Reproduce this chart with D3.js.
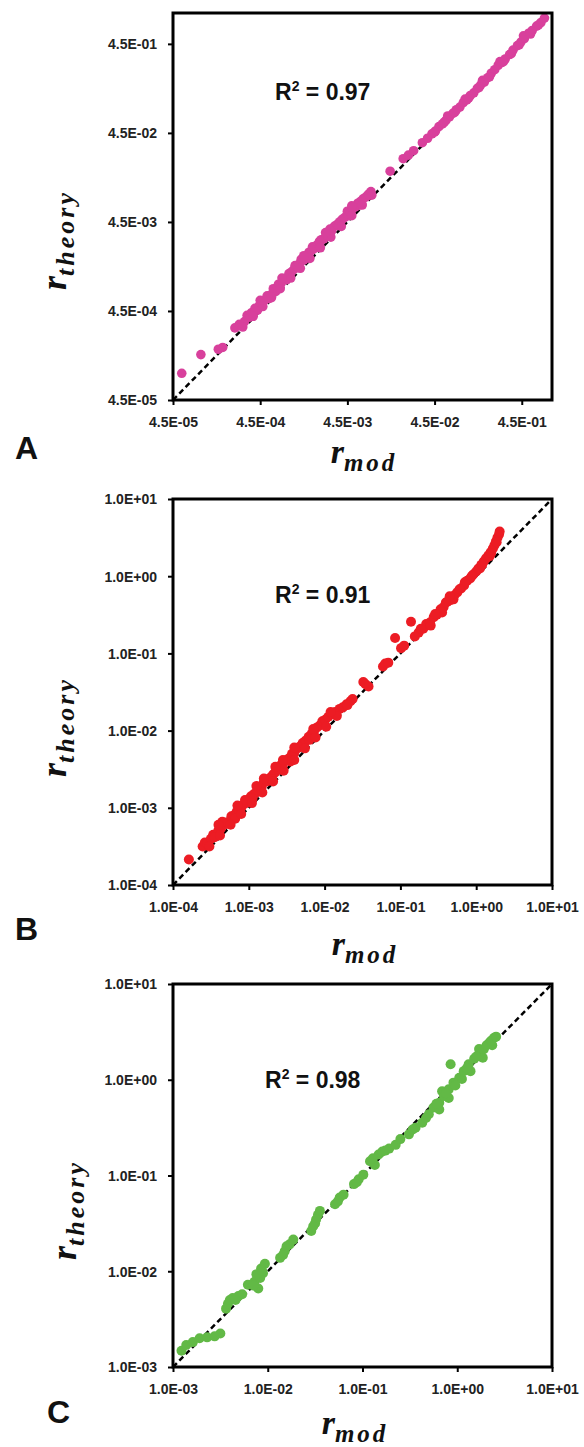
<!DOCTYPE html>
<html><head><meta charset="utf-8">
<script src="https://cdn.jsdelivr.net/npm/d3@7"></script>
<style>body{margin:0;background:#fff}svg{display:block}</style>
</head><body>
<svg id="chart" width="584" height="1447"></svg>
<script>
// ---------- data ----------
const aMod = [5.67e-5,9.40e-5,1.490e-4,1.672e-4,2.308e-4,2.589e-4,2.973e-4,3.186e-4,3.414e-4,3.574e-4,
3.920e-4,4.200e-4,4.397e-4,4.60e-4,5.05e-4,5.41e-4,5.67e-4,5.93e-4,6.36e-4,6.81e-4,
7.13e-4,7.30e-4,7.82e-4,8.38e-4,8.98e-4,9.40e-4,9.62e-4,1.031e-3,1.105e-3,1.130e-3,
1.184e-3,1.239e-3,1.268e-3,1.328e-3,1.423e-3,1.525e-3,1.597e-3,1.634e-3,1.751e-3,1.791e-3,
1.876e-3,2.010e-3,2.105e-3,2.154e-3,2.255e-3,2.417e-3,2.589e-3,2.712e-3,2.775e-3,2.840e-3,
2.973e-3,3.186e-3,3.414e-3,3.574e-3,3.658e-3,3.920e-3,4.200e-3,4.50e-3,4.50e-3,4.71e-3,
4.82e-3,5.17e-3,5.54e-3,5.93e-3,6.21e-3,6.36e-3,6.81e-3,7.30e-3,7.82e-3,8.00e-3,
8.38e-3,1.391e-2,1.964e-2,2.255e-2,2.589e-2,3.260e-2,3.743e-2,4.200e-2,4.60e-2,5.05e-2,
5.54e-2,6.07e-2,6.36e-2,6.66e-2,7.30e-2,8.00e-2,8.78e-2,9.62e-2,1.008e-1,1.055e-1,
1.157e-1,1.268e-1,1.391e-1,1.525e-1,1.597e-1,1.672e-1,1.833e-1,2.010e-1,2.204e-1,2.417e-1,
2.530e-1,2.650e-1,2.906e-1,3.260e-1,3.574e-1,4.011e-1,4.397e-1,4.71e-1,4.82e-1,5.41e-1,
5.93e-1,6.66e-1,7.47e-1,8.19e-1,
2.840e-4,3.743e-4,4.82e-4,6.07e-4,7.64e-4,1.008e-3,1.298e-3,1.672e-3,2.204e-3,2.906e-3,
3.830e-3,5.05e-3,6.66e-3,8.57e-3,4.50e-2,5.80e-2,7.64e-2,1.105e-1,1.456e-1,1.920e-1,
2.775e-1,3.414e-1,4.200e-1,5.67e-1,6.97e-1,4.50e-4,8.00e-4,1.423e-3,2.530e-3,5.05e-3];
const aTheory = [8.98e-5,1.456e-4,1.672e-4,1.751e-4,2.906e-4,3.186e-4,3.414e-4,4.011e-4,3.830e-4,4.298e-4,
4.82e-4,4.60e-4,5.17e-4,5.54e-4,5.93e-4,6.66e-4,6.21e-4,6.81e-4,8.00e-4,7.47e-4,
8.38e-4,8.98e-4,9.19e-4,1.031e-3,1.008e-3,1.080e-3,1.184e-3,1.239e-3,1.328e-3,1.456e-3,
1.423e-3,1.391e-3,1.525e-3,1.711e-3,1.672e-3,1.876e-3,1.791e-3,2.057e-3,2.154e-3,2.362e-3,
2.255e-3,2.473e-3,2.530e-3,2.712e-3,2.840e-3,2.906e-3,3.260e-3,3.113e-3,3.493e-3,3.743e-3,
3.574e-3,4.011e-3,4.200e-3,4.104e-3,4.50e-3,4.82e-3,5.05e-3,5.54e-3,5.93e-3,5.29e-3,
5.80e-3,6.36e-3,6.66e-3,7.30e-3,6.97e-3,7.64e-3,8.19e-3,8.57e-3,9.19e-3,8.98e-3,
9.85e-3,1.672e-2,2.308e-2,2.530e-2,2.840e-2,3.493e-2,3.920e-2,4.397e-2,4.71e-2,5.29e-2,
5.67e-2,6.21e-2,6.97e-2,6.81e-2,7.47e-2,8.19e-2,8.78e-2,9.85e-2,1.080e-1,1.055e-1,
1.184e-1,1.268e-1,1.423e-1,1.560e-1,1.751e-1,1.672e-1,1.876e-1,2.105e-1,2.308e-1,2.589e-1,
2.840e-1,2.775e-1,3.042e-1,3.414e-1,3.830e-1,4.298e-1,4.71e-1,5.54e-1,5.17e-1,5.93e-1,
6.36e-1,7.13e-1,7.82e-1,8.78e-1,
2.973e-4,3.920e-4,5.05e-4,6.36e-4,8.00e-4,1.055e-3,1.359e-3,1.751e-3,2.308e-3,3.042e-3,
4.011e-3,5.29e-3,6.97e-3,8.98e-3,4.60e-2,5.93e-2,7.64e-2,1.105e-1,1.456e-1,1.920e-1,
2.840e-1,3.493e-1,4.397e-1,5.80e-1,7.30e-1,5.93e-4,1.055e-3,1.876e-3,3.414e-3,6.81e-3];

const bMod = [1.62e-4,2.46e-4,2.63e-4,2.82e-4,3.16e-4,3.39e-4,3.72e-4,3.98e-4,4.27e-4,4.68e-4,
5.01e-4,5.50e-4,5.89e-4,6.31e-4,6.92e-4,7.41e-4,7.59e-4,7.94e-4,8.71e-4,9.33e-4,
1.00e-3,1.07e-3,1.17e-3,1.26e-3,1.38e-3,1.48e-3,1.58e-3,1.74e-3,1.91e-3,2.09e-3,
2.24e-3,2.45e-3,2.63e-3,2.82e-3,3.16e-3,3.39e-3,3.72e-3,3.98e-3,4.37e-3,4.68e-3,
5.13e-3,5.62e-3,6.17e-3,6.76e-3,7.24e-3,7.94e-3,8.71e-3,9.33e-3,1.02e-2,1.12e-2,
1.26e-2,1.38e-2,1.58e-2,1.74e-2,1.95e-2,2.19e-2,2.34e-2,3.24e-2,3.47e-2,3.80e-2,
5.89e-2,6.31e-2,6.92e-2,8.51e-2,1.02e-1,1.12e-1,1.38e-1,1.55e-1,1.74e-1,2.00e-1,
2.19e-1,2.45e-1,2.75e-1,3.02e-1,3.39e-1,3.72e-1,4.17e-1,4.57e-1,5.13e-1,5.62e-1,
6.31e-1,6.92e-1,7.59e-1,8.32e-1,9.12e-1,1.00,1.07,1.17,1.26,1.35,
1.45,1.55,1.66,1.74,1.82,1.91,2.00,2.04,2.51e-1,3.55e-1,
5.01e-1,7.08e-1,1.12,1.51,4.47e-1,3.55e-4,6.61e-4,1.12e-3,2.00e-3,3.55e-3,
6.31e-3,4.47e-4,8.91e-4,1.58e-3,2.82e-3,
3.02e-4,4.17e-4,5.75e-4,7.94e-4,1.10e-3,1.51e-3,2.09e-3,2.88e-3,3.98e-3,5.50e-3,
7.59e-3,1.05e-2,1.45e-2,2.00e-2,3.98e-4,7.08e-4,1.26e-3,2.24e-3,3.98e-3,7.08e-3,
1.20e-2,1.86e-1,2.88e-1,3.98e-1,6.03e-1,8.71e-1,1.20,1.58,1.86];
const bTheory = [2.14e-4,3.16e-4,3.55e-4,3.47e-4,3.98e-4,4.47e-4,4.57e-4,5.13e-4,5.37e-4,6.03e-4,
6.46e-4,6.61e-4,7.76e-4,7.94e-4,8.91e-4,9.33e-4,1.05e-3,1.00e-3,1.12e-3,1.17e-3,
1.29e-3,1.41e-3,1.51e-3,1.58e-3,1.82e-3,1.86e-3,2.14e-3,2.19e-3,2.45e-3,2.69e-3,
2.88e-3,3.16e-3,3.55e-3,3.63e-3,4.17e-3,4.37e-3,5.01e-3,5.13e-3,5.89e-3,6.17e-3,
6.92e-3,7.41e-3,8.32e-3,9.12e-3,9.77e-3,1.10e-2,1.17e-2,1.32e-2,1.38e-2,1.51e-2,
1.66e-2,1.74e-2,1.91e-2,2.00e-2,2.19e-2,2.40e-2,2.57e-2,4.27e-2,3.98e-2,3.72e-2,
6.76e-2,7.41e-2,7.59e-2,1.58e-1,1.17e-1,1.26e-1,2.57e-1,1.66e-1,1.86e-1,2.09e-1,
2.40e-1,2.51e-1,2.95e-1,3.16e-1,3.72e-1,3.98e-1,4.68e-1,4.90e-1,5.62e-1,6.17e-1,
6.92e-1,7.59e-1,8.71e-1,9.33e-1,1.05,1.15,1.26,1.41,1.55,1.70,
1.86,2.04,2.29,2.51,2.82,3.16,3.47,3.80,2.29e-1,3.39e-1,
5.01e-1,8.32e-1,1.26,1.82,5.50e-1,4.17e-4,7.24e-4,1.32e-3,2.34e-3,3.98e-3,
7.59e-3,6.61e-4,1.26e-3,2.40e-3,4.17e-3,
3.16e-4,4.37e-4,6.03e-4,8.32e-4,1.15e-3,1.58e-3,2.19e-3,3.02e-3,4.17e-3,5.89e-3,
8.13e-3,1.12e-2,1.55e-2,2.14e-2,6.03e-4,1.07e-3,1.91e-3,3.39e-3,6.03e-3,1.05e-2,
1.74e-2,2.09e-1,3.24e-1,4.57e-1,6.76e-1,1.00,1.41,2.00,2.75];

const cMod = [1.23e-3,1.38e-3,1.62e-3,1.91e-3,2.29e-3,2.75e-3,3.16e-3,3.63e-3,3.80e-3,4.27e-3,
4.90e-3,5.37e-3,6.17e-3,7.24e-3,7.94e-3,8.32e-3,8.51e-3,9.33e-3,8.91e-3,1.35e-2,
1.51e-2,1.70e-2,1.86e-2,2.88e-2,3.16e-2,3.39e-2,3.55e-2,5.13e-2,5.75e-2,6.31e-2,
8.13e-2,9.12e-2,1.02e-1,1.20e-1,1.35e-1,1.48e-1,1.62e-1,1.91e-1,2.24e-1,2.51e-1,
3.09e-1,3.63e-1,4.27e-1,5.01e-1,5.62e-1,6.46e-1,6.46e-1,6.92e-1,7.24e-1,8.13e-1,
8.13e-1,9.12e-1,1.05,1.12,1.17,1.32,1.38,1.51,1.70,1.86,
1.70,1.91,2.19,2.34,2.45,8.51e-1,
3.98e-3,4.57e-3,7.59e-3,8.71e-3,7.08e-3,1.58e-2,1.45e-2,3.24e-2,3.02e-2,5.50e-2,
8.71e-2,1.29e-1,1.74e-1,3.39e-1,4.68e-1,6.03e-1,7.59e-1,9.55e-1,1.26,1.58,
2.04,2.29,2.57];
const cTheory = [1.48e-3,1.70e-3,1.82e-3,2.00e-3,2.04e-3,2.09e-3,2.24e-3,4.07e-3,4.57e-3,5.25e-3,
5.50e-3,5.75e-3,7.24e-3,7.76e-3,6.61e-3,8.51e-3,1.07e-2,1.20e-2,9.55e-3,1.38e-2,
1.62e-2,1.91e-2,2.14e-2,2.63e-2,3.16e-2,3.89e-2,4.27e-2,5.01e-2,5.89e-2,6.31e-2,
8.13e-2,9.12e-2,1.02e-1,1.41e-1,1.29e-1,1.66e-1,1.78e-1,1.91e-1,2.09e-1,2.40e-1,
2.69e-1,3.16e-1,3.55e-1,4.37e-1,5.13e-1,5.75e-1,4.90e-1,7.59e-1,6.76e-1,7.94e-1,
6.46e-1,9.33e-1,1.05,1.02,1.23,1.45,1.23,1.66,1.86,1.70,
2.09,2.09,2.45,2.29,2.75,1.45,
5.01e-3,5.01e-3,9.33e-3,1.02e-2,7.08e-3,1.82e-2,1.48e-2,3.47e-2,2.95e-2,5.37e-2,
8.51e-2,1.51e-1,1.82e-1,3.02e-1,3.98e-1,5.62e-1,7.24e-1,8.71e-1,1.32,1.74,
2.29,2.57,2.82];

const aTicks = [4.5e-5, 4.5e-4, 4.5e-3, 4.5e-2, 4.5e-1];
const bTicks = [1e-4, 1e-3, 1e-2, 1e-1, 1e0, 1e1];
const cTicks = [1e-3, 1e-2, 1e-1, 1e0, 1e1];
const aDomain = [4.5e-5, 1.0];
const bDomain = [1e-4, 1e1];
const cDomain = [1e-3, 1e1];
const panelLetters = ["A", "B", "C"];
const r2Values = ["0.97", "0.91", "0.98"];

// ---------- layout ----------
const panels = [
  {mod:aMod, theory:aTheory, ticks:aTicks, domain:aDomain, letter:panelLetters[0], r2:r2Values[0],
   color:"#d8409c", r:4.8, left:173, right:552, top:13, bottom:400,
   lx:15, ly:459, r2x:275, r2y:100, tx:364, ty:463, yx:66, yy:240},
  {mod:bMod, theory:bTheory, ticks:bTicks, domain:bDomain, letter:panelLetters[1], r2:r2Values[1],
   color:"#ec1c24", r:5.0, left:173, right:552, top:499, bottom:885,
   lx:15, ly:940, r2x:275, r2y:603, tx:365, ty:955, yx:66, yy:727},
  {mod:cMod, theory:cTheory, ticks:cTicks, domain:cDomain, letter:panelLetters[2], r2:r2Values[2],
   color:"#62b946", r:5.0, left:173, right:552, top:984, bottom:1367,
   lx:47, ly:1423, r2x:265, r2y:1088, tx:355, ty:1434, yx:76, yy:1210}
];

const fmt = v => {
  const [m, e] = v.toExponential(1).split("e");
  const n = parseInt(e, 10);
  return m + "E" + (n < 0 ? "-" : "+") + String(Math.abs(n)).padStart(2, "0");
};

const svg = d3.select("#chart");
svg.append("rect").attr("width", 584).attr("height", 1447).attr("fill", "#fff");

const tickFont = '"Liberation Sans Narrow","Liberation Sans",Arial,sans-serif';
const serif = '"Liberation Serif","DejaVu Serif",serif';

panels.forEach(p => {
  const g = svg.append("g");
  const x = d3.scaleLog().domain(p.domain).range([p.left, p.right]);
  const y = d3.scaleLog().domain(p.domain).range([p.bottom, p.top]);

  // diagonal y = x
  g.append("line")
    .attr("x1", x(p.domain[0])).attr("y1", y(p.domain[0]))
    .attr("x2", x(p.domain[1])).attr("y2", y(p.domain[1]))
    .attr("stroke", "#000").attr("stroke-width", 2.5)
    .attr("stroke-dasharray", "5.5,3.5");

  // points
  g.append("g").selectAll("circle")
    .data(d3.zip(p.mod, p.theory))
    .join("circle")
    .attr("cx", d => x(d[0])).attr("cy", d => y(d[1]))
    .attr("r", p.r).attr("fill", p.color);

  // axes
  const xa = g.append("g").attr("transform", `translate(0,${p.bottom})`)
    .call(d3.axisBottom(x).tickValues(p.ticks).tickFormat(fmt).tickSize(5));
  const ya = g.append("g").attr("transform", `translate(${p.left},0)`)
    .call(d3.axisLeft(y).tickValues(p.ticks).tickFormat(fmt).tickSize(5));
  [xa, ya].forEach(a => {
    a.select(".domain").remove();
    a.selectAll(".tick line").attr("stroke", "#000").attr("stroke-width", 2);
    a.selectAll(".tick text").attr("fill", "#222")
      .style("font-family", tickFont).style("font-weight", "bold").style("font-size", "14px");
  });
  xa.selectAll(".tick text").attr("y", 27).attr("dy", null);
  ya.selectAll(".tick text").attr("x", -16).attr("dy", "0.35em");

  // frame
  g.append("rect")
    .attr("x", p.left).attr("y", p.top)
    .attr("width", p.right - p.left).attr("height", p.bottom - p.top)
    .attr("fill", "none").attr("stroke", "#000").attr("stroke-width", 3);

  // R^2 annotation
  const t = g.append("text").attr("x", p.r2x).attr("y", p.r2y)
    .style("font-family", '"Liberation Sans",Arial,sans-serif')
    .style("font-weight", "bold").style("font-size", "23px").attr("fill", "#111");
  t.append("tspan").text("R");
  t.append("tspan").attr("dy", -9).style("font-size", "14px").text("2");
  t.append("tspan").attr("dy", 9).text(" = " + p.r2);

  // panel letter
  g.append("text").attr("x", p.lx).attr("y", p.ly)
    .style("font-family", '"Liberation Sans",Arial,sans-serif')
    .style("font-weight", "bold")
    .style("font-size", "32px").attr("fill", "#111").text(p.letter);

  // x title r_mod
  const xt = g.append("text").attr("x", p.tx).attr("y", p.ty)
    .attr("text-anchor", "middle")
    .style("font-family", serif).style("font-style", "italic").style("font-weight", "bold")
    .attr("fill", "#111");
  xt.append("tspan").style("font-size", "34px").text("r");
  xt.append("tspan").attr("dy", 8).style("font-size", "25px").style("letter-spacing", "3px").text("mod");

  // y title r_theory
  const yt = g.append("text")
    .attr("transform", `translate(${p.yx},${p.yy}) rotate(-90)`)
    .attr("text-anchor", "middle")
    .style("font-family", serif).style("font-style", "italic").style("font-weight", "bold")
    .attr("fill", "#111");
  yt.append("tspan").style("font-size", "36px").text("r");
  yt.append("tspan").attr("dy", 8).style("font-size", "26px").style("letter-spacing", "3px").text("theory");
});
</script>
</body></html>
